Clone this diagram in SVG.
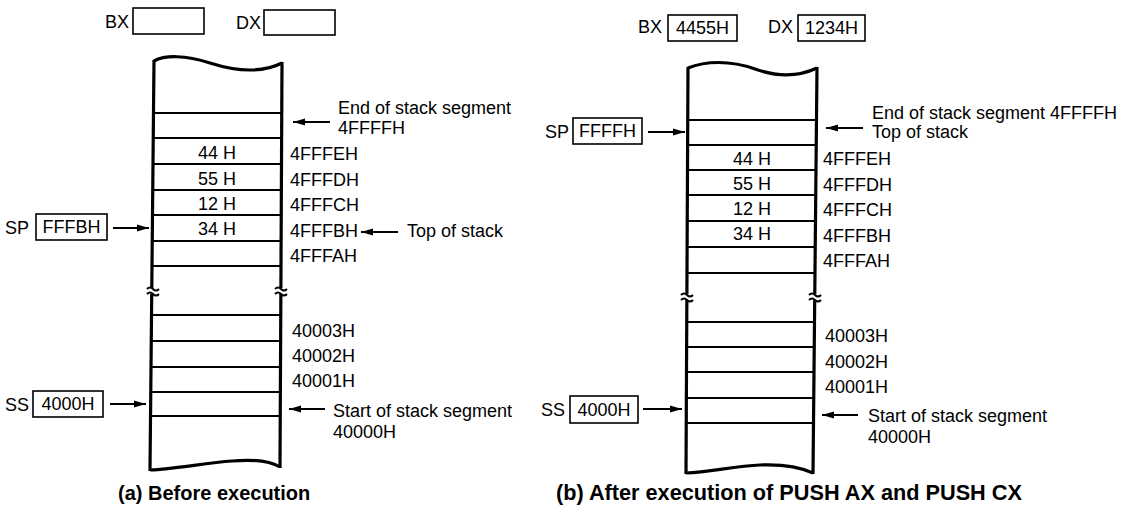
<svg xmlns="http://www.w3.org/2000/svg" width="1124" height="517" viewBox="0 0 1124 517">
<style>
text{font-family:"Liberation Sans",Arial,sans-serif;font-size:18px;fill:#000}
.c{text-anchor:middle}
.cap{font-weight:bold;font-size:20px}
.side{fill:none;stroke:#000;stroke-width:3.2}
.row{stroke:#000;stroke-width:2}
.box{fill:#fff;stroke:#000;stroke-width:1.6}
.arr{stroke:#000;stroke-width:2;fill:none;marker-end:url(#ah)}
.brk{fill:none;stroke:#000;stroke-width:2}
.gap{fill:#fff}
</style>
<defs>
<marker id="ah" markerUnits="userSpaceOnUse" markerWidth="12" markerHeight="8" refX="12" refY="4" orient="auto">
<path d="M0,0.5 L12,4 L0,7.5 z" fill="#000"/>
</marker>
</defs>
<rect width="1124" height="517" fill="#fff"/>

<!-- (a) Before execution -->
<g id="regs-a">
<text x="105" y="28">BX</text>
<rect class="box" x="133" y="8" width="71" height="26"/>
<text x="236" y="29">DX</text>
<rect class="box" x="264" y="10" width="71" height="25"/>
</g>
<g id="sp-a">
<text x="5" y="234">SP</text>
<rect class="box" x="36" y="214" width="71" height="26"/>
<text class="c" x="71.5" y="233">FFFBH</text>
</g>
<g id="ss-a">
<text x="5" y="411">SS</text>
<rect class="box" x="33" y="391" width="70" height="26"/>
<text class="c" x="68" y="410">4000H</text>
</g>
<g id="stack-a">
<path class="side" d="M154,61 C165,55 185,55 210,63 C235,71 260,74 282,63"/>
<path class="side" d="M150,470 C175,469 205,463 232,461 C255,459 270,461 280,467"/>
<line class="side" x1="154" y1="60" x2="150" y2="471"/>
<line class="side" x1="282" y1="62" x2="280" y2="468"/>
<g class="row">
<line x1="154" y1="113" x2="282" y2="113"/>
<line x1="154" y1="138" x2="282" y2="138"/>
<line x1="153" y1="164" x2="281" y2="164"/>
<line x1="153" y1="190" x2="281" y2="190"/>
<line x1="153" y1="215" x2="281" y2="215"/>
<line x1="153" y1="241" x2="281" y2="241"/>
<line x1="153" y1="266" x2="281" y2="266"/>
<line x1="151" y1="315" x2="281" y2="315"/>
<line x1="151" y1="341" x2="281" y2="341"/>
<line x1="151" y1="367" x2="280" y2="367"/>
<line x1="151" y1="392" x2="280" y2="392"/>
<line x1="151" y1="416" x2="280" y2="416"/>
</g>
<rect class="gap" x="148" y="288" width="8" height="6"/>
<rect class="gap" x="277" y="288" width="8" height="6"/>
<path class="brk" d="M147,289 q3,-3 6,0 t6,0 M147,294 q3,-3 6,0 t6,0"/>
<path class="brk" d="M275,289 q3,-3 6,0 t6,0 M275,294 q3,-3 6,0 t6,0"/>
<text class="c" x="217" y="159">44 H</text>
<text class="c" x="217" y="185">55 H</text>
<text class="c" x="217" y="210">12 H</text>
<text class="c" x="217" y="235">34 H</text>
</g>
<g id="addr-a">
<text x="290" y="160">4FFFEH</text>
<text x="290" y="186">4FFFDH</text>
<text x="290" y="211">4FFFCH</text>
<text x="290" y="237">4FFFBH</text>
<text x="290" y="262">4FFFAH</text>
<text x="292" y="337">40003H</text>
<text x="292" y="362">40002H</text>
<text x="292" y="387">40001H</text>
</g>
<g id="notes-a">
<text x="338" y="114">End of stack segment</text>
<text x="338" y="134">4FFFFH</text>
<text x="407" y="237">Top of stack</text>
<text x="333" y="417">Start of stack segment</text>
<text x="333" y="438">40000H</text>
</g>
<text id="cap-a" class="cap" x="118" y="500">(a) Before execution</text>

<!-- (b) After execution -->
<g id="regs-b">
<text x="638" y="33">BX</text>
<rect class="box" x="668" y="15" width="69" height="26"/>
<text class="c" x="702.5" y="34">4455H</text>
<text x="768" y="33">DX</text>
<rect class="box" x="798" y="15" width="67" height="26"/>
<text class="c" x="831.5" y="34">1234H</text>
</g>
<g id="sp-b">
<text x="545" y="138">SP</text>
<rect class="box" x="573" y="118" width="69" height="26"/>
<text class="c" x="607.5" y="137">FFFFH</text>
</g>
<g id="ss-b">
<text x="541" y="416">SS</text>
<rect class="box" x="570" y="396" width="68" height="27"/>
<text class="c" x="604" y="416">4000H</text>
</g>
<g id="stack-b">
<path class="side" d="M688,68 C705,61 730,60 755,69 C780,78 800,76 817,68"/>
<path class="side" d="M686,473 C710,472 735,466 760,465 C785,464 800,467 813,473"/>
<line class="side" x1="688" y1="67" x2="686" y2="474"/>
<line class="side" x1="817" y1="67" x2="813" y2="474"/>
<g class="row">
<line x1="688" y1="120" x2="817" y2="120"/>
<line x1="688" y1="145" x2="817" y2="145"/>
<line x1="688" y1="170" x2="816" y2="170"/>
<line x1="688" y1="195" x2="816" y2="195"/>
<line x1="688" y1="221" x2="816" y2="221"/>
<line x1="687" y1="247" x2="816" y2="247"/>
<line x1="687" y1="273" x2="815" y2="273"/>
<line x1="687" y1="322" x2="815" y2="322"/>
<line x1="687" y1="347" x2="814" y2="347"/>
<line x1="687" y1="372" x2="814" y2="372"/>
<line x1="686" y1="398" x2="814" y2="398"/>
<line x1="686" y1="423" x2="814" y2="423"/>
</g>
<rect class="gap" x="683" y="294" width="8" height="6"/>
<rect class="gap" x="811" y="294" width="8" height="6"/>
<path class="brk" d="M681,295 q3,-3 6,0 t6,0 M681,300 q3,-3 6,0 t6,0"/>
<path class="brk" d="M809,295 q3,-3 6,0 t6,0 M809,300 q3,-3 6,0 t6,0"/>
<text class="c" x="752" y="165">44 H</text>
<text class="c" x="752" y="190">55 H</text>
<text class="c" x="752" y="215">12 H</text>
<text class="c" x="752" y="240">34 H</text>
</g>
<g id="addr-b">
<text x="823" y="165">4FFFEH</text>
<text x="823" y="191">4FFFDH</text>
<text x="823" y="216">4FFFCH</text>
<text x="823" y="242">4FFFBH</text>
<text x="823" y="267">4FFFAH</text>
<text x="825" y="342">40003H</text>
<text x="825" y="368">40002H</text>
<text x="825" y="393">40001H</text>
</g>
<g id="notes-b">
<text x="872" y="119">End of stack segment 4FFFFH</text>
<text x="872" y="138">Top of stack</text>
<text x="868" y="422">Start of stack segment</text>
<text x="868" y="443">40000H</text>
</g>
<text id="cap-b" class="cap" x="556" y="500" style="font-size:21.7px">(b) After execution of PUSH AX and PUSH CX</text>

<g id="connectors">
<line class="arr" x1="330" y1="122" x2="293" y2="122"/>
<line class="arr" x1="398" y1="232" x2="361" y2="232"/>
<line class="arr" x1="113" y1="228" x2="149" y2="228"/>
<line class="arr" x1="110" y1="404" x2="146" y2="404"/>
<line class="arr" x1="325" y1="409" x2="289" y2="409"/>
<line class="arr" x1="648" y1="132" x2="685" y2="132"/>
<line class="arr" x1="863" y1="128" x2="826" y2="128"/>
<line class="arr" x1="643" y1="409" x2="682" y2="409"/>
<line class="arr" x1="858" y1="415" x2="822" y2="415"/>
</g>
</svg>
